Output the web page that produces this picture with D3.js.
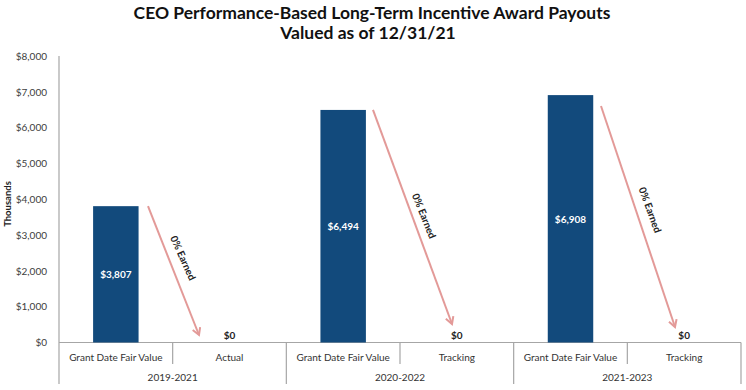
<!DOCTYPE html>
<html><head><meta charset="utf-8">
<script src="https://cdn.jsdelivr.net/npm/d3@7"></script>
<style>body{margin:0;background:#fff}svg{display:block}</style>
</head><body>
<svg id="c" width="746" height="390"></svg>
<script>
const groups = ["2019-2021","2020-2022","2021-2023"];
const subCats = [["Grant Date Fair Value","Actual"],["Grant Date Fair Value","Tracking"],["Grant Date Fair Value","Tracking"]];
const grantValues = [3807, 6494, 6908];
const payoutValues = [0, 0, 0];
const yTicks = [0,1000,2000,3000,4000,5000,6000,7000,8000];
const arrowLabel = "0% Earned";
const title = ["CEO Performance-Based Long-Term Incentive Award Payouts","Valued as of 12/31/21"];

const svg = d3.select("#c");
const font = "Lato, 'Open Sans', sans-serif";
const L = 59, R = 741, T = 56, B = 342.5;

const slots = [];
groups.forEach((g,i)=>{ subCats[i].forEach((s,j)=>slots.push({g:i,s:j,key:i+"-"+j,label:s,value: j===0?grantValues[i]:payoutValues[i]})); });

const x = d3.scaleBand().domain(slots.map(d=>d.key)).range([L,R]).paddingInner(0).paddingOuter(0);
const y = d3.scaleLinear().domain([0,8000]).range([B,T]);
const bw = x.bandwidth()*0.4;
const fmt = d3.format("$,");

// title
svg.selectAll("text.title").data(title).join("text").attr("class","title")
  .attr("x",(d,i)=>i===0?372:368).attr("y",(d,i)=>19+i*19.5).attr("text-anchor","middle")
  .style("font-family",font).style("font-weight","bold").style("font-size","17.5px").style("fill","#111")
  .text(d=>d);

// y axis
const ya = svg.append("g").attr("transform",`translate(${L},0)`)
  .call(d3.axisLeft(y).tickValues(yTicks).tickFormat(fmt).tickSize(0).tickPadding(12));
ya.select(".domain").remove();
ya.selectAll("text").style("font-family",font).style("font-size","10px").style("fill","#404040");

svg.append("text").attr("transform","translate(11,204) rotate(-90)").attr("text-anchor","middle")
  .style("font-family",font).style("font-weight","bold").style("font-size","9.5px").style("fill","#222").text("Thousands");

// axis lines
const grid = "#a6a6a6";
svg.append("line").attr("x1",L).attr("x2",L).attr("y1",T).attr("y2",384).attr("stroke",grid).attr("stroke-width",1.2);
svg.append("line").attr("x1",L).attr("x2",R).attr("y1",B).attr("y2",B).attr("stroke",grid).attr("stroke-width",1.2);
slots.forEach((d,i)=>{
  if(i===0) return;
  const xx = x(d.key);
  const isGroup = d.s===0;
  svg.append("line").attr("x1",xx).attr("x2",xx).attr("y1",B).attr("y2",isGroup?384:364).attr("stroke",grid).attr("stroke-width",1.2);
});
svg.append("line").attr("x1",R).attr("x2",R).attr("y1",B).attr("y2",384).attr("stroke",grid).attr("stroke-width",1.2);

// category labels
svg.selectAll("text.cat").data(slots).join("text").attr("class","cat")
  .attr("x",d=>x(d.key)+x.bandwidth()/2).attr("y",360.5).attr("text-anchor","middle")
  .style("font-family",font).style("font-size","10px").style("fill","#333").text(d=>d.label);
svg.selectAll("text.grp").data(groups).join("text").attr("class","grp")
  .attr("x",(d,i)=>x(i+"-0")+x.bandwidth()).attr("y",380.5).attr("text-anchor","middle")
  .style("font-family",font).style("font-size","10px").style("fill","#333").text(d=>d);

// bars
const barData = slots.filter(d=>d.value>0);
svg.selectAll("rect.bar").data(barData).join("rect").attr("class","bar")
  .attr("x",d=>x(d.key)+x.bandwidth()/2-bw/2).attr("width",bw)
  .attr("y",d=>y(d.value)).attr("height",d=>B-y(d.value)).attr("fill","#124a7c");
svg.selectAll("text.bl").data(barData).join("text").attr("class","bl")
  .attr("x",d=>x(d.key)+x.bandwidth()/2).attr("y",d=>(y(d.value)+B)/2+4).attr("text-anchor","middle")
  .style("font-family",font).style("font-weight","bold").style("font-size","10px").style("fill","#fff").text(d=>fmt(d.value));

// zero labels
const zeroData = slots.filter(d=>d.s===1);
svg.selectAll("text.z").data(zeroData).join("text").attr("class","z")
  .attr("x",d=>x(d.key)+x.bandwidth()/2).attr("y",339).attr("text-anchor","middle")
  .style("font-family",font).style("font-weight","bold").style("font-size","10px").style("fill","#222").text(d=>fmt(d.value));

// arrows
const defs = svg.append("defs");
const ac = "#e39a98";
defs.append("marker").attr("id","ah").attr("viewBox","0 0 10 10").attr("refX",8).attr("refY",5)
  .attr("markerWidth",5).attr("markerHeight",5).attr("orient","auto")
  .append("path").attr("d","M1,1 L8,5 L1,9").attr("fill","none").attr("stroke",ac).attr("stroke-width",2);
const arrowSpec = [
  {x1:148, y1:y(grantValues[0]), x2:199, y2:335},
  {x1:373, y1:y(grantValues[1]), x2:452, y2:324},
  {x1:601, y1:106, x2:675, y2:327}
];
arrowSpec.forEach(a=>{
  svg.append("line").attr("x1",a.x1).attr("y1",a.y1).attr("x2",a.x2).attr("y2",a.y2)
    .attr("stroke",ac).attr("stroke-width",2).attr("marker-end","url(#ah)");
});
const labelPos = [{cx:183,cy:258,a:66},{cx:424,cy:216,a:68},{cx:650,cy:210,a:70}];
labelPos.forEach(p=>{
  svg.append("text").attr("transform",`translate(${p.cx},${p.cy}) rotate(${p.a})`).attr("text-anchor","middle").attr("dy","0.35em")
    .style("font-family",font).style("font-weight","bold").style("font-size","10px").style("fill","#222").text(arrowLabel);
});
</script>
</body></html>
